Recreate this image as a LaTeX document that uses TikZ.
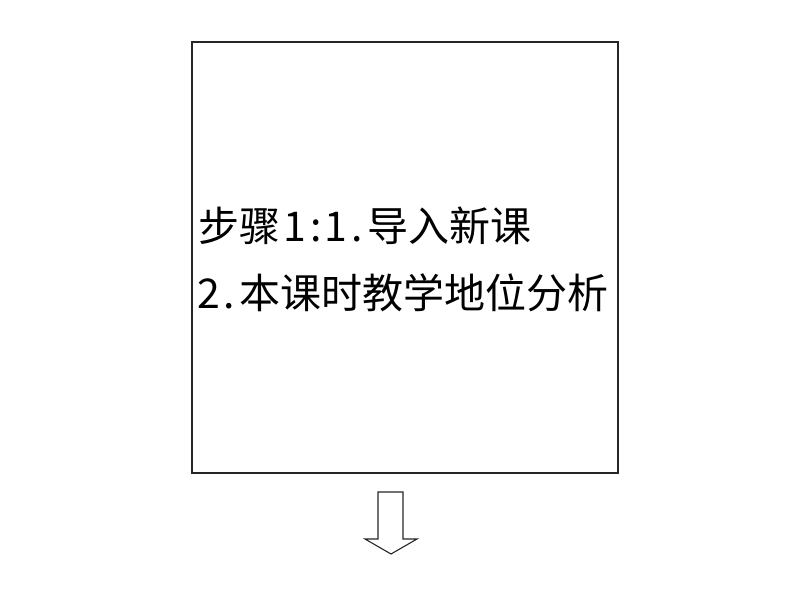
\documentclass[tikz,border=0pt]{standalone}
\usepackage{fontspec}
\newfontfamily\cjk{Noto Sans CJK SC}
\newcommand\hw[1]{\makebox[0.5em]{#1}}
\begin{document}
\begin{tikzpicture}[x=1pt,y=-1pt,
  frame/.style={draw=black!85, line width=1.6pt, inner sep=0pt, minimum width=426pt, minimum height=431pt, anchor=north west},
  txt/.style={inner sep=0pt, anchor=base west, font=\cjk\fontsize{41}{41}\selectfont},
  blockarrow/.style={draw=black!85, line width=1.1pt, fill=white, line join=miter}]
\useasboundingbox (0,0) rectangle (794,596);
\node[frame] (box) at (191,41) {};
\node[txt] (line1) at (198,241) {步骤\hspace{0.12em}\hw{1}\hw{:}\hw{1}\hw{.}导入新课};
\node[txt] (line2) at (198,308) {\hw{2}\hw{.}本课时教学地位分析};
\draw[blockarrow] (378,492) -- (403,492) -- (403,539) -- (417,539) -- (391,554)
  -- (365,539) -- (378,539) -- cycle;
\end{tikzpicture}
\end{document}
